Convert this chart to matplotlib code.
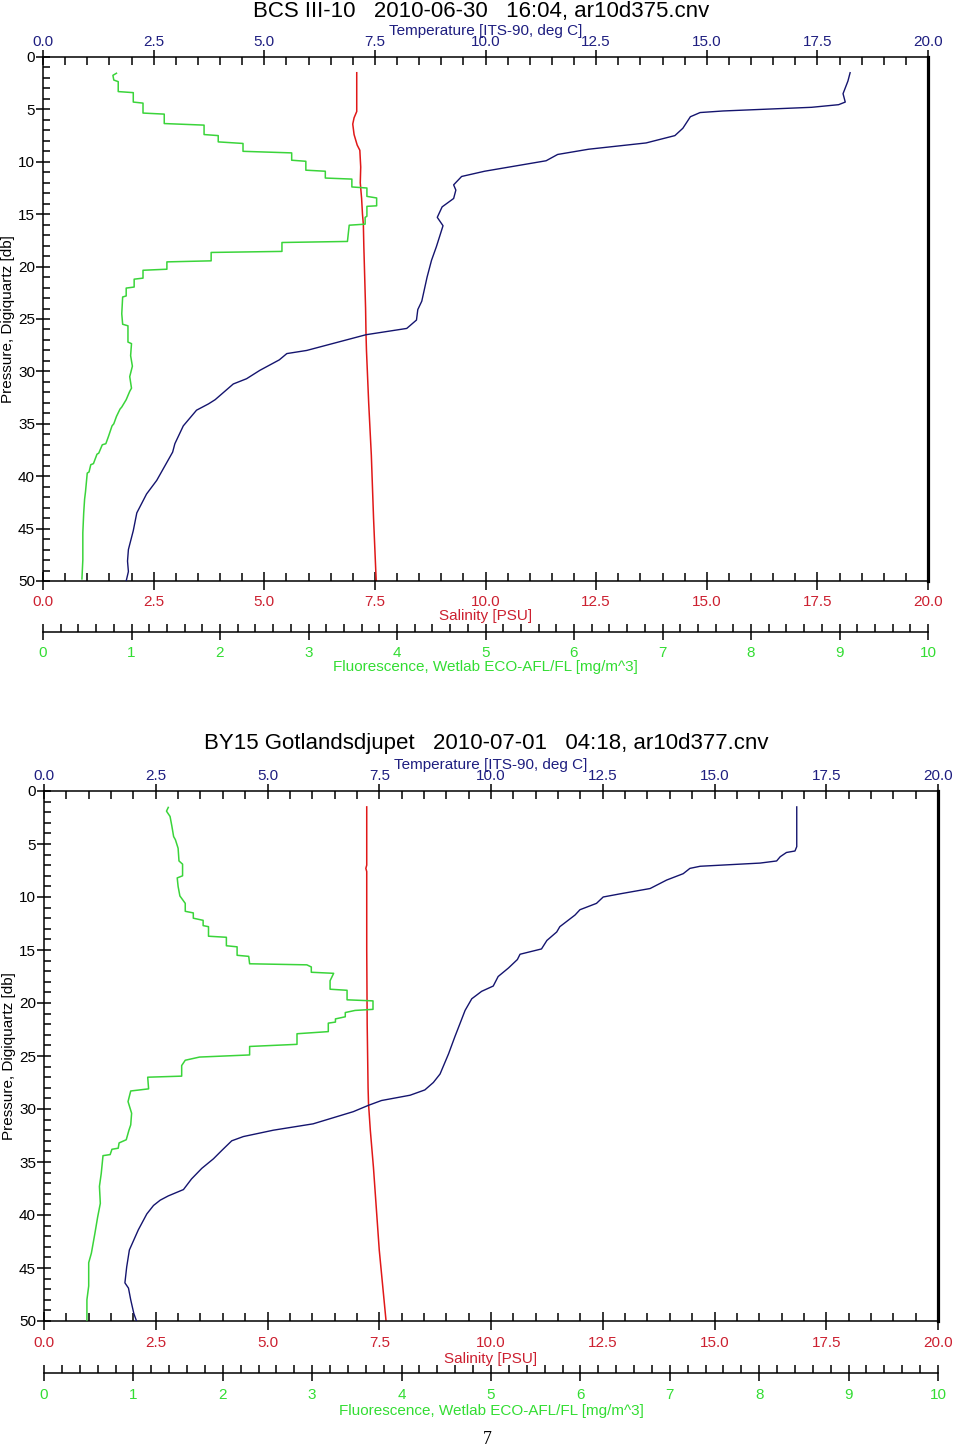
import numpy as np
import matplotlib
matplotlib.use('Agg')
import matplotlib.pyplot as plt
from matplotlib.ticker import MultipleLocator, FormatStrFormatter

plt.rcParams['font.family'] = ['Liberation Sans', 'DejaVu Sans']

# ---- Panel 1: BCS III-10 (ar10d375.cnv) ----
top_temp = [18.24, 18.19, 18.08, 18.13, 17.98, 17.37, 15.37, 14.85, 14.63, 14.46, 14.28, 13.63,
            12.33, 11.63, 11.37, 9.98, 9.46, 9.28, 9.33, 9.28, 9.02, 8.91, 9.04, 8.89, 8.78,
            8.68, 8.56, 8.47, 8.44, 8.22, 7.30, 5.96, 5.51, 5.34, 4.90, 4.60, 4.30, 3.89, 3.74,
            3.47, 3.17, 2.98, 2.93, 2.57, 2.34, 2.12, 2.04, 1.93, 1.91, 1.93, 1.88]
top_temp_p = [1.5, 2.3, 3.5, 4.3, 4.55, 4.8, 5.15, 5.3, 5.7, 6.8, 7.5, 8.2,
              8.8, 9.3, 9.9, 10.9, 11.4, 12.2, 12.7, 13.5, 14.3, 15.3, 16.1, 18.1, 19.4,
              21.0, 23.3, 24.1, 25.1, 25.9, 26.5, 28.0, 28.3, 28.9, 29.9, 30.7, 31.2, 32.7, 33.1,
              33.7, 35.2, 36.9, 37.7, 40.4, 41.7, 43.5, 45.2, 47.0, 48.1, 49.1, 50.0]

top_sal = [7.09, 7.09, 7.03, 7.00, 7.03, 7.10, 7.16, 7.18, 7.17, 7.20, 7.22, 7.24, 7.25,
           7.27, 7.29, 7.30, 7.31, 7.36, 7.42, 7.47, 7.53]
top_sal_p = [1.5, 5.2, 5.8, 6.4, 7.4, 8.4, 8.9, 10.5, 12.0, 13.5, 15.0, 16.0, 18.0,
             21.0, 24.0, 26.5, 28.0, 33.0, 38.0, 44.0, 50.0]

top_fl = [0.83, 0.79, 0.80, 0.85, 0.85, 1.02, 1.02, 1.13, 1.13, 1.37, 1.37, 1.82, 1.82, 1.98,
          1.98, 2.26, 2.26, 2.81, 2.81, 2.97, 2.97, 3.19, 3.19, 3.49, 3.49, 3.66, 3.66, 3.77,
          3.77, 3.66, 3.66, 3.64, 3.64, 3.46, 3.44, 2.70, 2.70, 1.90, 1.90, 1.40, 1.40, 1.13,
          1.13, 1.03, 1.03, 0.94, 0.94, 0.90, 0.89, 0.90, 0.96, 0.96, 1.00, 0.99, 1.01, 0.98,
          1.00, 0.98, 0.94, 0.89, 0.87, 0.83, 0.80, 0.78, 0.74, 0.71, 0.67, 0.63, 0.61, 0.57,
          0.54, 0.52, 0.50, 0.48, 0.47, 0.46, 0.45, 0.45, 0.44]
top_fl_p = [1.55, 1.75, 2.2, 2.35, 3.3, 3.4, 4.3, 4.4, 5.35, 5.45, 6.35, 6.5, 7.4, 7.5,
            8.1, 8.25, 9.0, 9.15, 9.85, 9.95, 10.8, 10.9, 11.55, 11.65, 12.4, 12.5, 13.3, 13.45,
            14.2, 14.25, 15.2, 15.3, 15.95, 16.05, 17.6, 17.7, 18.55, 18.65, 19.45, 19.55, 20.25, 20.35,
            21.1, 21.2, 21.95, 22.05, 22.8, 22.9, 24.5, 25.5, 25.65, 27.2, 27.35, 28.5, 29.5, 30.5,
            31.6, 31.9, 32.7, 33.4, 33.6, 34.3, 35.0, 35.2, 36.2, 36.9, 37.0, 37.8, 37.9, 38.8,
            38.9, 39.6, 39.7, 41.5, 42.2, 43.5, 45.4, 48.0, 49.8]

# ---- Panel 2: BY15 Gotlandsdjupet (ar10d377.cnv) ----
bot_temp = [16.84, 16.84, 16.80, 16.61, 16.47, 16.39, 16.02, 14.68, 14.45, 14.30, 13.93, 13.56,
            12.89, 12.51, 12.36, 11.99, 11.88, 11.54, 11.47, 11.25, 11.13, 10.65, 10.59, 10.39,
            10.16, 10.05, 9.79, 9.57, 9.42, 9.31, 9.19, 9.05, 8.86, 8.71, 8.52, 8.19, 7.55, 7.26,
            6.92, 6.02, 5.13, 4.46, 4.20, 3.98, 3.79, 3.53, 3.30, 3.12, 2.78, 2.60, 2.45, 2.30,
            2.11, 1.91, 1.85, 1.81, 1.89, 1.94, 2.01, 2.07]
bot_temp_p = [1.5, 5.25, 5.66, 5.8, 6.2, 6.6, 6.8, 7.1, 7.3, 7.8, 8.4, 9.2,
              9.7, 10.0, 10.6, 11.2, 11.7, 12.8, 13.3, 14.1, 14.9, 15.4, 15.9, 16.7,
              17.5, 18.4, 18.9, 19.6, 20.7, 21.9, 23.2, 24.8, 26.7, 27.5, 28.2, 28.7, 29.2, 29.65,
              30.25, 31.4, 32.0, 32.6, 33.0, 33.9, 34.7, 35.6, 36.6, 37.6, 38.2, 38.6, 39.1, 39.9,
              41.4, 43.3, 44.9, 46.4, 46.9, 48.0, 49.3, 50.0]

bot_sal = [7.22, 7.22, 7.20, 7.22, 7.22, 7.23, 7.25, 7.26, 7.30, 7.37, 7.50, 7.65]
bot_sal_p = [1.5, 7.0, 7.3, 7.6, 15.0, 22.0, 28.0, 29.5, 32.0, 35.5, 43.3, 49.9]

bot_fl = [1.39, 1.37, 1.41, 1.43, 1.45, 1.47, 1.50, 1.51, 1.55, 1.55, 1.49, 1.50, 1.52, 1.58,
          1.58, 1.67, 1.67, 1.78, 1.78, 1.84, 1.84, 2.04, 2.04, 2.16, 2.16, 2.29, 2.30, 2.94,
          2.99, 2.99, 3.24, 3.20, 3.20, 3.39, 3.39, 3.68, 3.68, 3.48, 3.37, 3.37, 3.26, 3.26,
          3.18, 3.18, 2.83, 2.83, 2.30, 2.30, 1.74, 1.58, 1.54, 1.54, 1.16, 1.17, 0.97, 0.94,
          0.98, 0.97, 0.95, 0.92, 0.84, 0.83, 0.76, 0.74, 0.66, 0.64, 0.62, 0.63, 0.60, 0.57,
          0.53, 0.50, 0.50, 0.48, 0.48]
bot_fl_p = [1.55, 1.9, 2.4, 3.3, 4.3, 4.6, 5.4, 6.6, 6.9, 8.0, 8.2, 9.0, 9.9, 10.6,
            11.35, 11.5, 12.0, 12.2, 12.7, 12.8, 13.7, 13.8, 14.6, 14.7, 15.5, 15.6, 16.3, 16.4,
            16.6, 17.1, 17.2, 17.9, 18.7, 18.8, 19.7, 19.8, 20.6, 20.7, 20.9, 21.3, 21.5, 21.8,
            21.9, 22.7, 22.9, 23.9, 24.1, 24.9, 25.1, 25.4, 25.9, 26.9, 27.0, 28.1, 28.3, 29.3,
            30.4, 31.5, 32.0, 32.9, 33.2, 33.7, 33.8, 34.3, 34.4, 36.1, 37.3, 38.9, 40.2, 41.7,
            43.6, 44.5, 46.7, 48.0, 49.9]

NAVY = '#14146e'
NAVY_TXT = '#1e1e80'
RED = '#e01818'
RED_TXT = '#cc2030'
GREEN = '#3ad43a'
GREEN_TXT = '#33dd33'
FS = 11

W, H = 960, 1450
fig = plt.figure(figsize=(W / 100, H / 100), dpi=100)


def draw_panel(left, top, right, bottom, title, title_x, title_y,
               temp, temp_p, sal, sal_p, fl, fl_p, fl_offset=51, extra=0.0):
    rect = [left / W, 1 - bottom / H, (right - left) / W, (bottom - top) / H]
    ax = fig.add_axes(rect)
    ax.set_xlim(0, 20)
    ax.set_ylim(50, 0)
    ax_t = ax.twiny()
    ax_t.set_xlim(0, 20)
    ax_f = ax.twiny()
    ax_f.set_xlim(0, 10)

    ax_f.plot(fl, fl_p, color=GREEN, lw=1.1)
    ax.plot(sal, sal_p, color=RED, lw=1.1)
    ax_t.plot(temp, temp_p, color=NAVY, lw=1.0)

    # spines
    ax.spines['top'].set_visible(False)
    ax.spines['right'].set_linewidth(2.3)
    ax.spines['left'].set_linewidth(1.1)
    ax.spines['bottom'].set_linewidth(1.1)
    for s in ['left', 'right', 'bottom']:
        ax_t.spines[s].set_visible(False)
    ax_t.spines['top'].set_linewidth(1.1)
    for s in ['left', 'right', 'top']:
        ax_f.spines[s].set_visible(False)
    ax_f.spines['bottom'].set_linewidth(1.1)
    ax_f.spines['bottom'].set_position(('outward', fl_offset * 0.72))

    # salinity (bottom) and pressure axes
    ax.xaxis.set_major_locator(MultipleLocator(2.5))
    ax.xaxis.set_minor_locator(MultipleLocator(0.5))
    ax.xaxis.set_major_formatter(FormatStrFormatter('%.1f'))
    ax.yaxis.set_major_locator(MultipleLocator(5))
    ax.yaxis.set_minor_locator(MultipleLocator(1))
    ax.tick_params(axis='x', which='major', direction='inout', length=13, width=1.1,
                   pad=3.8 + extra, labelsize=FS, labelcolor=RED_TXT)
    ax.tick_params(axis='x', which='minor', direction='in', length=5.8, width=1.1)
    ax.tick_params(axis='y', which='major', direction='inout', length=9.4, width=1.1,
                   pad=1, labelsize=FS, right=False)
    ax.tick_params(axis='y', which='minor', direction='in', length=5, width=1.1, right=False)
    ax.set_xlabel('Salinity [PSU]', color=RED_TXT, fontsize=FS, labelpad=0 + extra)
    ax.set_ylabel('Pressure, Digiquartz [db]', fontsize=FS, labelpad=2.5)

    # temperature (top)
    ax_t.xaxis.set_major_locator(MultipleLocator(2.5))
    ax_t.xaxis.set_minor_locator(MultipleLocator(0.5))
    ax_t.xaxis.set_major_formatter(FormatStrFormatter('%.1f'))
    ax_t.tick_params(axis='x', which='major', direction='inout', length=10.8, width=1.1,
                     pad=0, labelsize=FS, labelcolor=NAVY_TXT)
    ax_t.tick_params(axis='x', which='minor', direction='in', length=5.5, width=1.1)
    ax_t.set_xlabel('Temperature [ITS-90, deg C]', color=NAVY_TXT, fontsize=FS, labelpad=0.5)

    # fluorescence (separate bottom scale)
    ax_f.xaxis.set_ticks_position('bottom')
    ax_f.xaxis.set_label_position('bottom')
    ax_f.xaxis.set_major_locator(MultipleLocator(1))
    ax_f.xaxis.set_minor_locator(MultipleLocator(0.2))
    ax_f.xaxis.set_major_formatter(FormatStrFormatter('%d'))
    ax_f.tick_params(axis='x', which='major', direction='inout', length=12, width=1.1,
                     pad=4.0 + extra, labelsize=FS, labelcolor=GREEN_TXT)
    ax_f.tick_params(axis='x', which='minor', direction='in', length=5.8, width=1.1)
    ax_f.set_xlabel('Fluorescence, Wetlab ECO-AFL/FL [mg/m^3]', color=GREEN_TXT,
                    fontsize=FS, labelpad=0.3 + extra)

    fig.text(title_x / W, 1 - title_y / H, title, ha='center', va='center', fontsize=16)


draw_panel(43, 57, 928, 581, 'BCS III-10   2010-06-30   16:04, ar10d375.cnv', 481, 11,
           top_temp, top_temp_p, top_sal, top_sal_p, top_fl, top_fl_p)
draw_panel(44, 791, 938, 1321, 'BY15 Gotlandsdjupet   2010-07-01   04:18, ar10d377.cnv', 486, 743,
           bot_temp, bot_temp_p, bot_sal, bot_sal_p, bot_fl, bot_fl_p, fl_offset=52, extra=0.8)

fig.text(487 / W, 1 - 1440 / H, '7', ha='center', va='center', fontsize=13,
         family=['Liberation Serif', 'DejaVu Serif'])

fig.savefig('out.png', dpi=100)
